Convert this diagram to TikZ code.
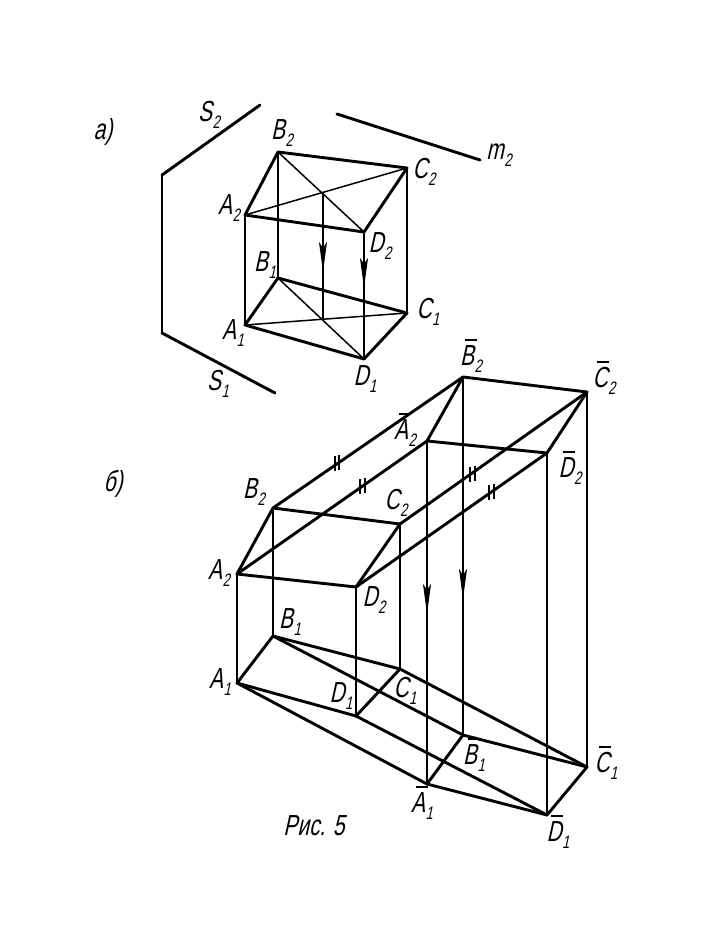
\documentclass[tikz,border=0pt]{standalone}
\usepackage{fontspec}
\setmainfont[FakeSlant=0.22,FakeStretch=0.72]{Liberation Sans}
\usetikzlibrary{arrows.meta}
\newcommand{\lb}[2]{#1\kern0.5pt\raisebox{-7pt}{\fontsize{18}{18}\selectfont #2}}
\newcommand{\bl}[2]{\leavevmode\rlap{\kern4.5pt\raisebox{24.5pt}{\rule{12pt}{2pt}}}#1\kern0.5pt\raisebox{-7pt}{\fontsize{18}{18}\selectfont #2}}
\tikzset{
  thick edge/.style={line width=2.9pt,line cap=round,line join=round},
  thin edge/.style={line width=1.5pt},
  ticks/.style={line width=1.8pt},
  head/.style={line width=1.5pt,-{Stealth[length=30pt,width=8pt,inset=6pt]}},
  lab/.style={inner sep=0pt,font=\fontsize{29}{29}\selectfont},
  pt/.style={coordinate}
}
\begin{document}
\begin{tikzpicture}[x=1pt,y=-1pt]
\useasboundingbox (0,0) rectangle (709,951);
% --- a)
\foreach \n/\x/\y in {sa/260/105,sb/162/175,sc/162/333,sd/275/393,ma/337/114,mb/480/160,
 tB2/278/152,tC2/407/168,tA2/245/215,tD2/364/232,tB1/278/278,tC1/407/313,tA1/245/325,tD1/364/359,
 tO2/323/193,tO1/323/319,
 th1s/323/240,th1e/323/272,th2s/364/255,th2e/364/288,
 B2/273/508,C2/400/524,A2/237/574,D2/356/587,B1/273/636,C1/400/669,A1/237/683,D1/356/716,
 bB2/463/377,bC2/587/392,bA2/427/441,bD2/547/453,bB1/463/735,bC1/587/767,bA1/427/784,bD1/547/815,
 h1s/427/575,h1e/427/614,h2s/463/565,h2e/463/599,
 k1a/335/456,k1b/335/471,k2a/339/455,k2b/339/470,
 k3a/360/479,k3b/360/494,k4a/365/478,k4b/365/493,
 k5a/470/467,k5b/470/482,k6a/475/466,k6b/475/481,
 k7a/489/485,k7b/489/500,k8a/494/484,k8b/494/499}
  \coordinate (\n) at (\x,\y);
\draw[thick edge] (sa)--(sb);
\draw[thin edge,line width=1.9pt] (sb)--(sc);
\draw[thick edge] (sc)--(sd);
\draw[thick edge] (ma)--(mb);
\draw[thin edge] (tA2)--(tA1) (tB2)--(tB1) (tC2)--(tC1) (tD2)--(tD1) (tO2)--(tO1);
\draw[thin edge] (tA2)--(tC2) (tB2)--(tD2) (tA1)--(tC1) (tB1)--(tD1);
\draw[thick edge] (tA2)--(tB2)--(tC2)--(tD2)--cycle;
\draw[thick edge] (tA1)--(tB1)--(tC1)--(tD1)--cycle;
\draw[head] (th1s)--(th1e);
\draw[head] (th2s)--(th2e);
% --- b)
\draw[thin edge] (A2)--(A1) (B2)--(B1) (C2)--(C1) (D2)--(D1)
  (bA2)--(bA1) (bB2)--(bB1) (bC2)--(bC1) (bD2)--(bD1);
\draw[thick edge] (A2)--(B2)--(C2)--(D2)--cycle;
\draw[thick edge] (A1)--(B1)--(C1)--(D1)--cycle;
\draw[thick edge] (bA2)--(bB2)--(bC2)--(bD2)--cycle;
\draw[thick edge] (bA1)--(bB1)--(bC1)--(bD1)--cycle;
\draw[thick edge] (A2)--(bA2) (B2)--(bB2) (C2)--(bC2) (D2)--(bD2);
\draw[thick edge] (A1)--(bA1) (B1)--(bB1) (C1)--(bC1) (D1)--(bD1);
\draw[head] (h1s)--(h1e);
\draw[head] (h2s)--(h2e);
\draw[ticks] (k1a)--(k1b) (k2a)--(k2b) (k3a)--(k3b) (k4a)--(k4b)
  (k5a)--(k5b) (k6a)--(k6b) (k7a)--(k7b) (k8a)--(k8b);
% --- labels
\node[lab] (la) at (103,132) {а)};
\node[lab] (ls2) at (209,115) {\lb{S}{2}};
\node[lab] (lm2) at (499,155) {\lb{m}{2}};
\node[lab] (ltB2) at (282,133) {\lb{B}{2}};
\node[lab] (ltC2) at (424,172) {\lb{C}{2}};
\node[lab] (ltA2) at (229,208) {\lb{A}{2}};
\node[lab] (ltD2) at (380,246) {\lb{D}{2}};
\node[lab] (ltB1) at (265,265) {\lb{B}{1}};
\node[lab] (ltC1) at (428,312) {\lb{C}{1}};
\node[lab] (ltA1) at (233,333) {\lb{A}{1}};
\node[lab] (ltD1) at (365,379) {\lb{D}{1}};
\node[lab] (ls1) at (218,384) {\lb{S}{1}};
\node[lab] (lb) at (113,484) {б)};
\node[lab] (lbB2) at (471,356) {\bl{B}{2}};
\node[lab] (lbC2) at (604,378) {\bl{C}{2}};
\node[lab] (lbA2) at (405,430) {\bl{A}{2}};
\node[lab] (lbD2) at (570,468) {\bl{D}{2}};
\node[lab] (lB2) at (254,492) {\lb{B}{2}};
\node[lab] (lC2) at (396,503) {\lb{C}{2}};
\node[lab] (lA2) at (219,573) {\lb{A}{2}};
\node[lab] (lD2) at (374,600) {\lb{D}{2}};
\node[lab] (lB1) at (290,622) {\lb{B}{1}};
\node[lab] (lC1) at (405,691) {\lb{C}{1}};
\node[lab] (lA1) at (220,682) {\lb{A}{1}};
\node[lab] (lD1) at (341,696) {\lb{D}{1}};
\node[lab] (lbA1) at (422,803) {\bl{A}{1}};
\node[lab] (lbB1) at (474,755) {\bl{B}{1}};
\node[lab] (lbC1) at (606,763) {\bl{C}{1}};
\node[lab] (lbD1) at (558,832) {\bl{D}{1}};
\node[lab] (cap) at (314,826) {Рис. 5};
\end{tikzpicture}
\end{document}
